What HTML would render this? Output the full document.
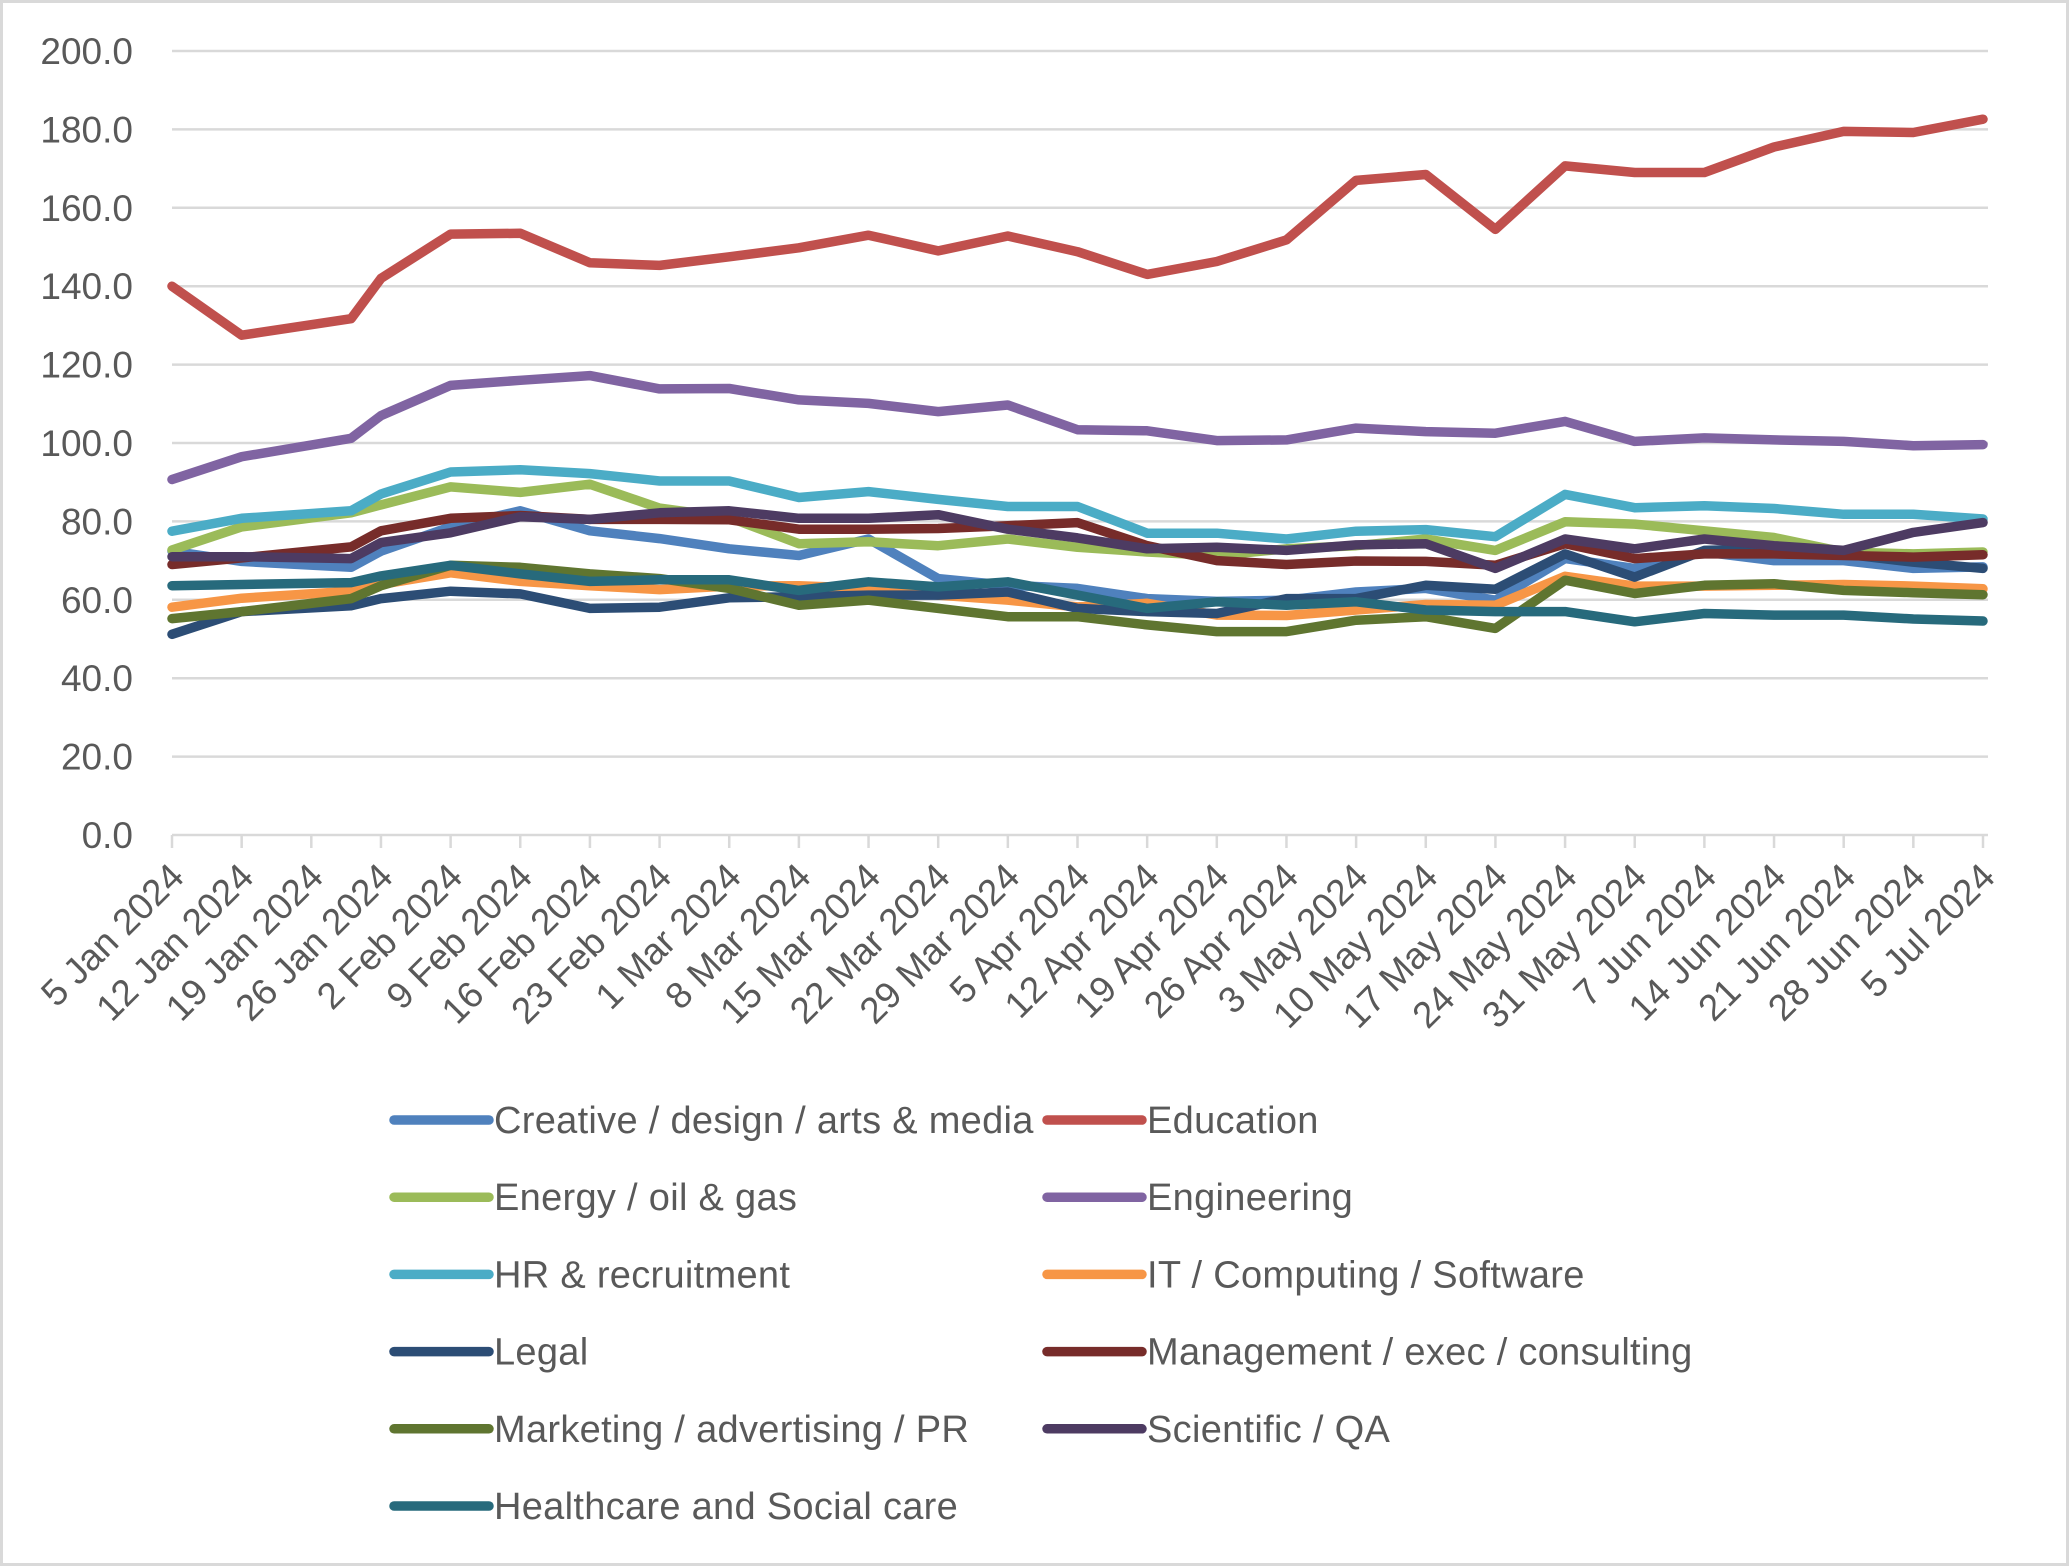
<!DOCTYPE html>
<html><head><meta charset="utf-8"><style>
html,body{margin:0;padding:0;background:#fff;}
svg{display:block;font-family:"Liberation Sans",sans-serif;}
</style></head><body>
<svg id="chart" width="2071" height="1568" viewBox="0 0 2071 1568" xmlns="http://www.w3.org/2000/svg">
<rect x="1.5" y="1.5" width="2066" height="1563" fill="#fff" stroke="#d9d9d9" stroke-width="3"/>
<g id="grid"></g><g id="yaxis"></g><g id="xaxis"></g><g id="series"></g><g id="legend"></g>
</svg>
<script>
const dayOffsets=[0,7,18,21,28,35,42,49,56,63,70,77,84,91,98,105,112,119,126,133,140,147,154,161,168,175,182];
const tickLabels=["5 Jan 2024","12 Jan 2024","19 Jan 2024","26 Jan 2024","2 Feb 2024","9 Feb 2024","16 Feb 2024","23 Feb 2024","1 Mar 2024","8 Mar 2024","15 Mar 2024","22 Mar 2024","29 Mar 2024","5 Apr 2024","12 Apr 2024","19 Apr 2024","26 Apr 2024","3 May 2024","10 May 2024","17 May 2024","24 May 2024","31 May 2024","7 Jun 2024","14 Jun 2024","21 Jun 2024","28 Jun 2024","5 Jul 2024"];
const yTicks=[0,20,40,60,80,100,120,140,160,180,200];
const seriesNames=["Creative / design / arts & media","Education","Energy / oil & gas","Engineering","HR & recruitment","IT / Computing / Software","Legal","Management / exec / consulting","Marketing / advertising / PR","Scientific / QA","Healthcare and Social care"];
const seriesColors=["#4f81bd","#c0504d","#9bbb59","#8064a2","#4bacc6","#f79646","#2c4d75","#772c2a","#5f7530","#4d3b62","#276a7c"];
const creative=[72.4,69.8,68.3,72.4,78.6,82.7,77.6,75.6,73,71.3,75.5,65.4,63.7,62.9,60.3,59.6,59.9,62,62.9,59.9,70.5,68,72.2,70,70,68,68.4];
const education=[140,127.5,131.7,142,153.3,153.5,146,145.3,147.5,149.8,153,149,152.8,148.8,143,146.3,151.8,167,168.5,154.5,170.7,169,169,175.5,179.5,179.2,182.6];
const energy=[72.7,78.6,82.2,84.2,88.8,87.4,89.5,83.4,81,74.3,74.8,73.8,75.5,73.4,72.2,71.3,73,73.8,75.5,72.6,79.9,79.3,77.6,75.9,72.2,71.7,72.2];
const engineering=[90.7,96.5,101.2,107,114.7,116,117.2,113.8,113.9,111,110.1,108,109.7,103.4,103.1,100.6,100.8,103.8,102.9,102.5,105.5,100.4,101.3,100.8,100.4,99.3,99.6];
const hr=[77.5,80.8,82.7,87,92.6,93.2,92.2,90.3,90.3,86.1,87.6,85.6,83.8,83.8,77,77,75.5,77.5,77.9,76.1,86.9,83.5,84,83.3,81.8,81.8,80.6];
const it=[58.1,60.4,62.2,63.9,66.9,64.7,63.6,62.6,63.5,63.6,62.9,61.2,59.9,58.2,59.1,56.1,56,57.4,58.8,58.6,66,63.5,63.5,63.7,63.9,63.5,62.8];
const legal=[51.2,57,58.5,60.3,62.2,61.5,57.8,58.1,60.5,60.8,61.2,61.2,62,57.8,57,56.5,60.3,60.3,63.7,62.7,71.7,65.8,72.6,73,71.7,69.6,68];
const management=[69,70.7,73.5,77.6,80.8,81.5,80.5,80.5,80.4,78,78,78.2,78.9,79.7,73.8,70,69,69.9,69.8,68.8,74.3,70.5,71.7,71.7,71.3,70.9,71.5];
const marketing=[55.2,57,60.3,63.6,68.8,68.3,66.6,65.4,62.9,58.6,59.9,57.8,55.7,55.7,53.6,51.9,51.9,54.8,55.7,52.7,65,61.6,63.7,64.1,62.4,61.8,61.3];
const scientific=[71,71,70.5,74.6,77.1,81.2,80.5,82.2,82.7,80.8,80.8,81.7,78,75.8,73,73.4,72.6,74,74.3,68,75.5,73,75.5,73.8,72.6,77.2,79.7];
const healthcare=[63.6,63.9,64.4,66.1,68.8,66.6,64.7,65.1,65.1,62.4,64.6,63.3,64.6,61.2,57.8,59.5,58.6,59.5,57.4,57,57,54.4,56.5,56.1,56.1,55.1,54.6];
const allSeries=[creative,education,energy,engineering,hr,it,legal,management,marketing,scientific,healthcare];

const NS="http://www.w3.org/2000/svg";
const X0=172,X1=1983,Y0=835,Y1=51,MAXD=182,MAXV=200;
function xScale(d){return X0+(X1-X0)*d/MAXD;}
function yScale(v){return Y0-(Y0-Y1)*v/MAXV;}
function mk(tag,attrs,parent){const e=document.createElementNS(NS,tag);for(const k in attrs)e.setAttribute(k,attrs[k]);parent.appendChild(e);return e;}

const grid=document.getElementById('grid'),yax=document.getElementById('yaxis'),xax=document.getElementById('xaxis'),ser=document.getElementById('series'),leg=document.getElementById('legend');
yTicks.forEach(v=>{
  const y=yScale(v);
  if(v>0){const g=mk('line',{x1:X0,x2:X1+5,y1:y,y2:y,stroke:'#d9d9d9','stroke-width':2.5},grid);
  
  }
  const t=mk('text',{x:133,y:y+13,'text-anchor':'end','font-size':37,fill:'#595959'},yax);
  t.textContent=v.toFixed(1);
  
  
});
const ax=mk('line',{x1:X0,x2:X1+5,y1:Y0,y2:Y0,stroke:'#d9d9d9','stroke-width':2.5},xax);


tickLabels.forEach((lab,i)=>{
  const x=X0+(X1-X0)*i/(tickLabels.length-1);
  const tk=mk('line',{x1:x,x2:x,y1:Y0,y2:Y0+13,stroke:'#d9d9d9','stroke-width':2.5},xax);
  
  
  const ax2=x+14,ay2=Y0+44;
  const t=mk('text',{x:ax2,y:ay2,'text-anchor':'end','font-size':37,fill:'#595959',transform:`rotate(-45 ${ax2} ${ay2})`},xax);
  t.textContent=lab;
  
  
});
allSeries.forEach((vals,si)=>{
  const pts=vals.map((v,i)=>xScale(dayOffsets[i]).toFixed(1)+','+yScale(v).toFixed(1)).join(' ');
  const p=mk('polyline',{points:pts,fill:'none',stroke:seriesColors[si],'stroke-width':9.5,'stroke-linejoin':'round','stroke-linecap':'round'},ser);
  
  
});
seriesNames.forEach((n,i)=>{
  const col=i%2,row=Math.floor(i/2);
  const lx=col?1047:394,ly=1120+row*77.2;
  const g=mk('g',{},leg);
  
  
  mk('line',{x1:lx,x2:lx+95,y1:ly,y2:ly,stroke:seriesColors[i],'stroke-width':9.5,'stroke-linecap':'round'},g);
  const t=mk('text',{x:lx+100,y:ly+13,'font-size':38,'letter-spacing':'0.3',fill:'#595959'},g);
  t.textContent=n;
});
</script>
</body></html>
